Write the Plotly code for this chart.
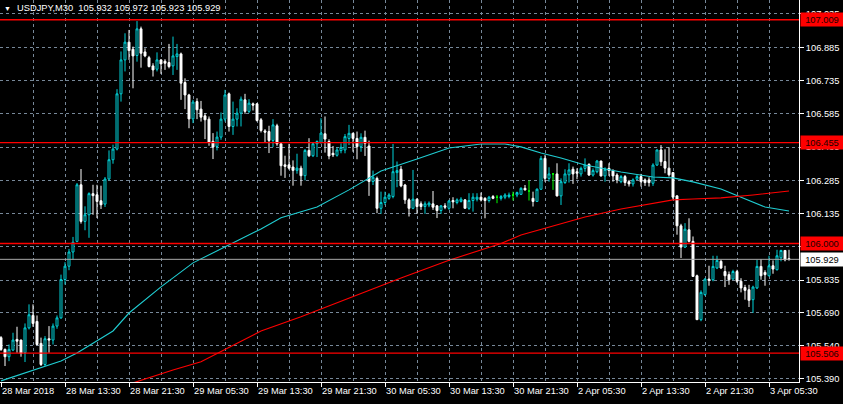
import plotly.graph_objects as go

symbol = "USDJPY,M30"

bar_index = list(range(198))

opens = [105.576, 105.523, 105.490, 105.520, 105.568, 105.565, 105.508, 105.620, 105.676, 105.649,
         105.550, 105.455, 105.571, 105.565, 105.628, 105.665, 105.838, 105.898, 105.962, 106.010,
         106.265, 106.100, 106.130, 106.225, 106.220, 106.193, 106.178, 106.291, 106.378, 106.426,
         106.675, 106.828, 106.908, 106.876, 106.848, 106.968, 106.864, 106.838, 106.801, 106.786,
         106.828, 106.822, 106.816, 106.801, 106.843, 106.855, 106.726, 106.670, 106.562, 106.640,
         106.606, 106.576, 106.561, 106.461, 106.438, 106.480, 106.561, 106.675, 106.528, 106.561,
         106.588, 106.648, 106.596, 106.630, 106.630, 106.558, 106.508, 106.505, 106.465, 106.531,
         106.450, 106.355, 106.355, 106.345, 106.330, 106.340, 106.306, 106.420, 106.396, 106.450,
         106.456, 106.495, 106.460, 106.407, 106.398, 106.419, 106.422, 106.474, 106.497, 106.474,
         106.437, 106.479, 106.440, 106.280, 106.294, 106.159, 106.185, 106.204, 106.212, 106.320,
         106.335, 106.264, 106.197, 106.159, 106.200, 106.179, 106.167, 106.174, 106.179, 106.170,
         106.149, 106.170, 106.159, 106.194, 106.185, 106.190, 106.197, 106.159, 106.194, 106.200,
         106.209, 106.204, 106.194, 106.212, 106.209, 106.204, 106.209, 106.212, 106.219, 106.219,
         106.222, 106.249, 106.237, 106.204, 106.190, 106.245, 106.384, 106.294, 106.314, 106.314,
         106.215, 106.275, 106.310, 106.335, 106.324, 106.314, 106.339, 106.357, 106.309, 106.324,
         106.372, 106.305, 106.339, 106.329, 106.309, 106.279, 106.302, 106.279, 106.269, 106.290,
         106.302, 106.287, 106.287, 106.272, 106.354, 106.422, 106.370, 106.340, 106.320, 106.215,
         106.080, 105.984, 106.062, 106.010, 105.855, 105.657, 105.770, 105.840, 105.837, 105.890,
         105.920, 105.874, 105.860, 105.840, 105.874, 105.830, 105.802, 105.792, 105.747, 105.800,
         105.897, 105.870, 105.855, 105.900, 105.882, 105.936, 105.969, 105.932]

highs = [105.583, 105.527, 105.545, 105.598, 105.625, 105.567, 105.640, 105.726, 105.726, 105.676,
         105.576, 105.583, 105.628, 105.640, 105.676, 105.860, 105.916, 105.976, 106.030, 106.273,
         106.336, 106.168, 106.231, 106.265, 106.265, 106.261, 106.300, 106.420, 106.446, 106.696,
         106.866, 106.948, 106.963, 106.888, 107.003, 106.978, 106.880, 106.846, 106.813, 106.862,
         106.831, 106.831, 106.900, 106.933, 106.900, 106.861, 106.745, 106.675, 106.648, 106.655,
         106.643, 106.588, 106.573, 106.498, 106.505, 106.591, 106.693, 106.681, 106.640, 106.610,
         106.663, 106.675, 106.651, 106.636, 106.633, 106.566, 106.516, 106.531, 106.561, 106.540,
         106.453, 106.396, 106.450, 106.375, 106.405, 106.351, 106.426, 106.475, 106.456, 106.465,
         106.565, 106.573, 106.470, 106.440, 106.434, 106.452, 106.494, 106.535, 106.500, 106.505,
         106.497, 106.509, 106.464, 106.329, 106.302, 106.234, 106.234, 106.227, 106.449, 106.370,
         106.350, 106.269, 106.204, 106.332, 106.204, 106.190, 106.190, 106.190, 106.237, 106.174,
         106.174, 106.182, 106.197, 106.209, 106.204, 106.209, 106.200, 106.227, 106.227, 106.227,
         106.230, 106.209, 106.215, 106.219, 106.219, 106.219, 106.227, 106.230, 106.234, 106.234,
         106.254, 106.264, 106.284, 106.234, 106.249, 106.395, 106.399, 106.344, 106.317, 106.362,
         106.294, 106.335, 106.362, 106.347, 106.339, 106.347, 106.384, 106.362, 106.339, 106.377,
         106.374, 106.344, 106.362, 106.335, 106.317, 106.309, 106.309, 106.287, 106.294, 106.309,
         106.314, 106.294, 106.299, 106.362, 106.425, 106.444, 106.425, 106.434, 106.320, 106.219,
         106.089, 106.092, 106.114, 106.032, 105.860, 105.789, 105.844, 105.900, 105.945, 105.945,
         105.927, 105.900, 105.874, 105.882, 105.882, 105.844, 105.814, 105.814, 105.810, 105.927,
         105.930, 105.880, 105.945, 105.924, 105.972, 105.972, 105.969, 105.972]

lows = [105.516, 105.448, 105.470, 105.515, 105.508, 105.490, 105.466, 105.613, 105.625, 105.541,
        105.448, 105.448, 105.508, 105.545, 105.616, 105.661, 105.815, 105.880, 105.928, 106.006,
        106.090, 106.060, 106.026, 106.130, 106.115, 106.156, 106.165, 106.285, 106.360, 106.420,
        106.640, 106.776, 106.828, 106.700, 106.820, 106.793, 106.840, 106.794, 106.753, 106.776,
        106.765, 106.783, 106.790, 106.760, 106.783, 106.648, 106.606, 106.520, 106.543, 106.561,
        106.550, 106.471, 106.441, 106.381, 106.420, 106.468, 106.550, 106.505, 106.490, 106.528,
        106.528, 106.585, 106.588, 106.600, 106.550, 106.501, 106.456, 106.408, 106.435, 106.441,
        106.306, 106.296, 106.333, 106.261, 106.315, 106.261, 106.285, 106.390, 106.390, 106.390,
        106.450, 106.410, 106.380, 106.390, 106.392, 106.407, 106.407, 106.444, 106.414, 106.380,
        106.414, 106.395, 106.215, 106.264, 106.137, 106.134, 106.174, 106.197, 106.204, 106.254,
        106.254, 106.179, 106.122, 106.155, 106.134, 106.152, 106.134, 106.164, 106.152, 106.115,
        106.134, 106.155, 106.152, 106.159, 106.177, 106.185, 106.159, 106.152, 106.144, 106.190,
        106.190, 106.114, 106.185, 106.200, 106.182, 106.194, 106.200, 106.204, 106.194, 106.209,
        106.219, 106.239, 106.194, 106.167, 106.190, 106.242, 106.279, 106.279, 106.242, 106.212,
        106.174, 106.269, 106.275, 106.269, 106.290, 106.302, 106.324, 106.305, 106.302, 106.317,
        106.302, 106.279, 106.305, 106.279, 106.272, 106.272, 106.260, 106.257, 106.257, 106.287,
        106.257, 106.260, 106.257, 106.260, 106.350, 106.350, 106.317, 106.302, 106.197, 106.040,
        105.935, 105.980, 106.005, 105.852, 105.657, 105.650, 105.765, 105.810, 105.830, 105.885,
        105.885, 105.804, 105.814, 105.837, 105.822, 105.780, 105.747, 105.714, 105.687, 105.795,
        105.837, 105.810, 105.852, 105.864, 105.879, 105.920, 105.920, 105.923]

closes = [105.523, 105.490, 105.523, 105.565, 105.560, 105.505, 105.620, 105.679, 105.640, 105.545,
          105.455, 105.571, 105.565, 105.628, 105.665, 105.838, 105.898, 105.962, 106.006, 106.265,
          106.100, 106.130, 106.225, 106.216, 106.190, 106.175, 106.291, 106.378, 106.426, 106.675,
          106.828, 106.908, 106.870, 106.846, 106.968, 106.858, 106.846, 106.798, 106.783, 106.828,
          106.810, 106.813, 106.798, 106.846, 106.855, 106.723, 106.670, 106.562, 106.638, 106.603,
          106.570, 106.558, 106.456, 106.435, 106.480, 106.561, 106.670, 106.528, 106.561, 106.588,
          106.651, 106.596, 106.633, 106.624, 106.555, 106.510, 106.502, 106.465, 106.535, 106.450,
          106.351, 106.348, 106.340, 106.330, 106.340, 106.306, 106.420, 106.396, 106.450, 106.460,
          106.498, 106.471, 106.395, 106.400, 106.422, 106.434, 106.482, 106.497, 106.474, 106.437,
          106.479, 106.452, 106.280, 106.299, 106.159, 106.185, 106.209, 106.219, 106.324, 106.329,
          106.260, 106.197, 106.159, 106.200, 106.167, 106.167, 106.179, 106.182, 106.164, 106.149,
          106.170, 106.164, 106.192, 106.188, 106.197, 106.200, 106.159, 106.194, 106.209, 106.209,
          106.197, 106.194, 106.209, 106.204, 106.209, 106.212, 106.219, 106.219, 106.219, 106.230,
          106.249, 106.242, 106.237, 106.190, 106.245, 106.384, 106.294, 106.314, 106.314, 106.215,
          106.279, 106.314, 106.332, 106.314, 106.317, 106.339, 106.354, 106.309, 106.329, 106.372,
          106.305, 106.335, 106.329, 106.305, 106.287, 106.302, 106.275, 106.269, 106.287, 106.302,
          106.279, 106.275, 106.275, 106.354, 106.422, 106.369, 106.340, 106.310, 106.209, 106.080,
          105.984, 106.065, 106.010, 105.852, 105.657, 105.780, 105.840, 105.834, 105.897, 105.924,
          105.890, 105.855, 105.837, 105.874, 105.830, 105.800, 105.789, 105.744, 105.804, 105.897,
          105.855, 105.860, 105.900, 105.885, 105.945, 105.969, 105.927, 105.929]

# moving averages read at sample bars
ma_fast_bars = [0, 15, 19, 28, 32, 40, 48, 57, 65, 70, 79, 87, 95, 104, 112, 120, 126, 130,
                135, 140, 146, 155, 163, 168, 173, 180, 188, 191, 197]
ma_fast_vals = [105.381, 105.471, 105.507, 105.606, 105.687, 105.805, 105.913, 105.994, 106.066,
                106.116, 106.165, 106.242, 106.327, 106.381, 106.431, 106.449, 106.449, 106.436,
                106.408, 106.386, 106.354, 106.323, 106.300, 106.296, 106.278, 106.246, 106.188,
                106.165, 106.147]

ma_slow_bars = [33, 43, 50, 65, 75, 87, 100, 112, 125, 130, 138, 146, 155, 165, 168, 173, 180, 188, 197]
ma_slow_vals = [105.372, 105.430, 105.467, 105.606, 105.670, 105.755, 105.845, 105.925, 106.000,
                106.039, 106.079, 106.120, 106.156, 106.188, 106.197, 106.201, 106.206, 106.219, 106.237]

level_lines = [107.009, 106.455, 106.000, 105.506]
bid_price = 105.929

y_tick_vals = [105.390, 105.540, 105.690, 105.835, 105.985, 106.135, 106.285, 106.435,
               106.585, 106.735, 106.885, 107.035]
y_tick_text = ["105.390", "105.540", "105.690", "105.835", "105.985", "106.135", "106.285",
               "106.435", "106.585", "106.735", "106.885", "107.035"]

x_tick_bars = [0, 16, 32, 48, 64, 80, 96, 112, 128, 144, 160, 176, 192]
x_tick_text = ["28 Mar 2018", "28 Mar 13:30", "28 Mar 21:30", "29 Mar 05:30", "29 Mar 13:30",
               "29 Mar 21:30", "30 Mar 05:30", "30 Mar 13:30", "30 Mar 21:30", "2 Apr 05:30",
               "2 Apr 13:30", "2 Apr 21:30", "3 Apr 05:30"]
x_grid_minor = [8, 24, 40, 56, 72, 88, 104, 120, 136, 152, 168, 184]

CYAN = "#00D2D8"
GRID = "#778899"
FONT = "Arial, 'Liberation Sans', sans-serif"
FS = 9.3

norm = [i for i in bar_index if opens[i] != closes[i]]
doji = [i for i in bar_index if opens[i] == closes[i]]

fig = go.Figure()

fig.add_trace(go.Scatter(x=ma_fast_bars, y=ma_fast_vals, mode="lines",
                         line=dict(color="#20CDD2", width=1.1), hoverinfo="skip"))
fig.add_trace(go.Scatter(x=ma_slow_bars, y=ma_slow_vals, mode="lines",
                         line=dict(color="#FF0000", width=1.1), hoverinfo="skip"))

fig.add_trace(go.Candlestick(
    x=norm,
    open=[opens[i] for i in norm], high=[highs[i] for i in norm],
    low=[lows[i] for i in norm], close=[closes[i] for i in norm],
    increasing=dict(line=dict(color=CYAN, width=1), fillcolor="#000000"),
    decreasing=dict(line=dict(color="#FFFFFF", width=1), fillcolor="#FFFFFF"),
    whiskerwidth=0,
))
fig.add_trace(go.Candlestick(
    x=doji,
    open=[opens[i] for i in doji], high=[highs[i] for i in doji],
    low=[lows[i] for i in doji], close=[closes[i] for i in doji],
    increasing=dict(line=dict(color="#00FF00", width=1), fillcolor="#00FF00"),
    decreasing=dict(line=dict(color="#00FF00", width=1), fillcolor="#00FF00"),
    whiskerwidth=0,
))

shapes = []
for lv in level_lines:
    shapes.append(dict(type="line", xref="paper", x0=0, x1=1, yref="y", y0=lv, y1=lv,
                       line=dict(color="#FF0000", width=1.4), layer="above"))
shapes.append(dict(type="line", xref="paper", x0=0, x1=1, yref="y", y0=bid_price, y1=bid_price,
                   line=dict(color="#A9A9A9", width=1), layer="above"))

annotations = []
for lv in level_lines:
    annotations.append(dict(xref="paper", x=1, xanchor="left", xshift=1, yref="y", y=lv,
                            yanchor="middle", text=f"{lv:.3f}", showarrow=False,
                            bgcolor="#FF0000", width=40, height=11, borderpad=1,
                            font=dict(family=FONT, size=FS, color="#200000"), align="center"))
annotations.append(dict(xref="paper", x=1, xanchor="left", xshift=1, yref="y", y=bid_price,
                        yanchor="middle", text=f"{bid_price:.3f}", showarrow=False,
                        bgcolor="#FFFFFF", width=40, height=11, borderpad=1,
                        font=dict(family=FONT, size=FS, color="#000000"), align="center"))

title_text = (f"{symbol}\u00a0\u00a0{opens[-1]:.3f} {highs[-1]:.3f} "
              f"{lows[-1]:.3f} {closes[-1]:.3f}")
annotations.append(dict(xref="paper", yref="paper", x=0, y=1, xanchor="left", yanchor="middle",
                        xshift=15, yshift=-8, text=title_text, showarrow=False,
                        font=dict(family=FONT, size=FS, color="#FFFFFF")))
annotations.append(dict(xref="paper", yref="paper", x=0, y=1, xanchor="left", yanchor="middle",
                        xshift=2, yshift=-8, text="\u25BC", showarrow=False,
                        font=dict(family=FONT, size=7, color="#FFFFFF")))

fig.update_layout(
    width=843, height=404,
    margin=dict(l=0, r=44, t=0, b=22),
    paper_bgcolor="#000000", plot_bgcolor="#000000",
    showlegend=False,
    shapes=shapes, annotations=annotations,
    font=dict(family=FONT, size=FS, color="#FFFFFF"),
)

fig.update_xaxes(
    range=[-0.25, 199.5],
    rangeslider=dict(visible=False),
    tickmode="array", tickvals=x_tick_bars, ticktext=x_tick_text,
    ticklabelposition="outside right",
    ticks="outside", ticklen=4, tickcolor="#FFFFFF",
    tickfont=dict(family=FONT, size=FS, color="#FFFFFF"),
    showgrid=True, gridcolor=GRID, griddash="3px,3px", gridwidth=1,
    minor=dict(tickmode="array", tickvals=x_grid_minor, showgrid=True, gridcolor=GRID,
               griddash="3px,3px", gridwidth=1, ticks=""),
    showline=True, linecolor="#FFFFFF", linewidth=1,
    zeroline=False, fixedrange=True,
)
fig.update_yaxes(
    side="right",
    range=[105.376, 107.098],
    tickmode="array", tickvals=y_tick_vals, ticktext=y_tick_text,
    ticks="outside", ticklen=4, tickcolor="#FFFFFF",
    tickfont=dict(family=FONT, size=FS, color="#FFFFFF"),
    showgrid=True, gridcolor=GRID, griddash="3px,3px", gridwidth=1,
    showline=True, linecolor="#FFFFFF", linewidth=1,
    zeroline=False, fixedrange=True,
)

fig.write_html(
    "out.html",
    config={"displayModeBar": False},
    post_script="document.body.style.margin='0';document.body.style.background='#000';",
)
